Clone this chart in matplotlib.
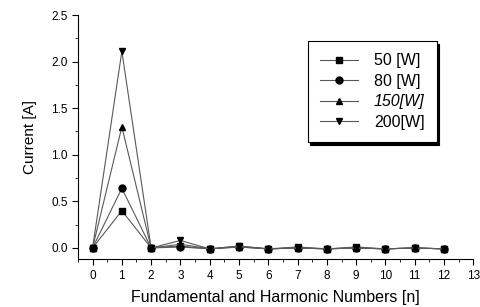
import matplotlib.pyplot as plt
from matplotlib.ticker import MultipleLocator

plt.rcParams['font.family'] = ['Liberation Sans', 'DejaVu Sans']

# harmonic numbers and measured current per lamp power
harmonics = [0, 1, 2, 3, 4, 5, 6, 7, 8, 9, 10, 11, 12]
cur_50w = [0.0, 0.40, 0.0, 0.02, -0.01, 0.02, -0.01, 0.01, -0.01, 0.01, -0.01, 0.0, -0.01]
cur_80w = [0.0, 0.64, 0.0, 0.01, -0.01, 0.01, -0.01, 0.0, -0.01, 0.0, -0.01, 0.0, -0.01]
cur_150w = [0.0, 1.30, 0.0, 0.04, -0.01, 0.01, -0.01, 0.0, -0.01, 0.0, -0.01, 0.0, -0.01]
cur_200w = [0.0, 2.11, 0.0, 0.08, -0.01, 0.02, -0.01, 0.0, -0.01, 0.0, -0.01, 0.0, -0.01]
labels = ['50 [W]', '80 [W]', '150[W]', '200[W]']
markers = ['s', 'o', '^', 'v']

fig = plt.figure(figsize=(4.81, 3.07), dpi=100)
ax = fig.add_axes([0.162, 0.156, 0.822, 0.795])

series = [cur_50w, cur_80w, cur_150w, cur_200w]
for vals, lab, m in zip(series, labels, markers):
    ax.plot(harmonics, vals, marker=m, color='0.35', linewidth=0.8,
            markerfacecolor='black', markeredgecolor='black', markersize=5,
            label=lab)

ax.set_xlim(-0.5, 13)
ax.set_ylim(-0.12, 2.5)
ax.xaxis.set_major_locator(MultipleLocator(1))
ax.xaxis.set_minor_locator(MultipleLocator(0.5))
ax.yaxis.set_major_locator(MultipleLocator(0.5))
ax.yaxis.set_minor_locator(MultipleLocator(0.25))
ax.spines['top'].set_visible(False)
ax.spines['right'].set_visible(False)
ax.tick_params(axis='both', which='major', direction='out', length=4, labelsize=8.5)
ax.tick_params(axis='both', which='minor', direction='out', length=2)

ax.set_xlabel('Fundamental and Harmonic Numbers [n]', fontsize=11.5, labelpad=6)
ax.set_ylabel('Current [A]', fontsize=11, labelpad=10)

leg = ax.legend(loc='upper left', bbox_to_anchor=(0.581, 0.893), borderaxespad=0,
                fancybox=False, edgecolor='black', fontsize=11.5, handlelength=2.4,
                borderpad=0.75, labelspacing=0.35, handletextpad=1.0,
                shadow={'facecolor': 'black', 'edgecolor': 'black', 'alpha': 1})
leg.get_frame().set_linewidth(0.8)
leg.get_texts()[2].set_style('italic')

fig.savefig('out.png', dpi=100)
